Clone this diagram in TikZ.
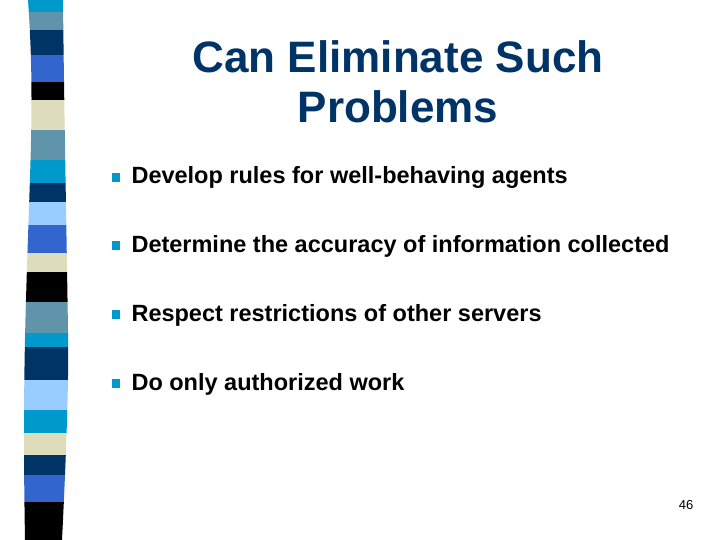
\documentclass[tikz,border=0pt]{standalone}
\usepackage{fontspec}
\setmainfont{Liberation Sans}
\definecolor{cy}{HTML}{0099CC}\definecolor{st}{HTML}{5F94AA}\definecolor{nv}{HTML}{003366}
\definecolor{rb}{HTML}{3366CC}\definecolor{bg}{HTML}{DDDDBB}\definecolor{lb}{HTML}{99CCFF}
\begin{document}
\begin{tikzpicture}[x=1pt,y=-1pt,
 bul/.style={fill=cy,minimum size=8.5pt,inner sep=0pt},
 item/.style={anchor=base west,font=\fontsize{23.5}{23.5}\selectfont\bfseries},
 ttl/.style={font=\fontsize{44}{50}\selectfont\bfseries,text=nv,align=center}]
\fill[white] (0,0) rectangle (720,540);
\begin{scope}
\clip (28,0) .. controls (35,100) and (30,160) .. (26,300) .. controls (23,400) and (24,480) .. (25,540)
 -- (62,540) .. controls (66,460) and (69,380) .. (68,330) .. controls (66,200) and (64,100) .. (63,0) -- cycle;
\foreach \a/\b/\c in {0/12/cy,12/30/st,30/55/nv,55/82/rb,82/100/black,100/130/bg,130/160/st,160/183/cy,183/202/nv,202/225/lb,225/253/rb,253/272/bg,272/302/black,302/333/st,333/347/cy,347/380/nv,380/410/lb,410/433/cy,433/455/bg,455/475/nv,475/502/rb,502/540/black}
 \fill[\c] (15,\a) rectangle (75,\b);
\end{scope}
\node[ttl] (t) at (398,82) {Can Eliminate Such\\Problems};
\foreach \y/\t [count=\i] in {184/Develop rules for well-behaving agents,252/Determine the accuracy of information collected,321/Respect restrictions of other servers,390/Do only authorized work}{
 \node[bul] (b\i) at (116,\y-6.5) {};
 \node[item] (i\i) at (128,\y) {\t};}
\node[font=\fontsize{13}{13}\selectfont] (p) at (686,505) {46};
\end{tikzpicture}
\end{document}
